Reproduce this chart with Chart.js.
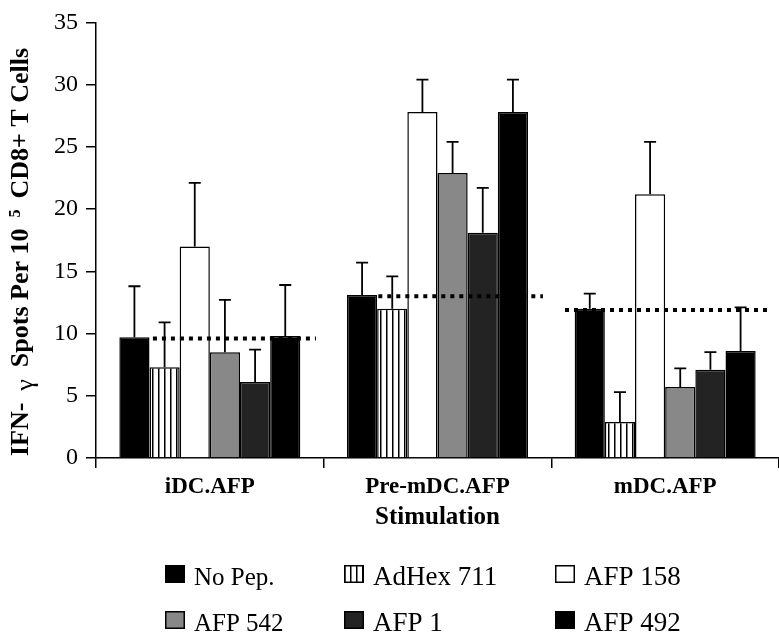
<!DOCTYPE html>
<html>
<head>
<meta charset="utf-8">
<script src="https://cdn.jsdelivr.net/npm/chart.js@4"></script>
<style>
  html, body { margin: 0; padding: 0; background: #ffffff; }
  #wrap { width: 779px; height: 639px; position: relative; }
</style>
</head>
<body>
<div id="wrap"><canvas id="c" width="779" height="639"></canvas></div>
<script>
// ---- data ----
const categories = ['iDC.AFP', 'Pre-mDC.AFP', 'mDC.AFP'];
const seriesNames = ['No Pep.', 'AdHex 711', 'AFP 158', 'AFP 542', 'AFP 1', 'AFP 492'];
const noPep    = [9.7, 13.1, 12.0];
const adHex711 = [7.3, 12.0, 2.9];
const afp158   = [17.0, 27.8, 21.2];
const afp542   = [8.5, 22.9, 5.7];
const afp1     = [6.1, 18.1, 7.1];
const afp492   = [9.8, 27.8, 8.6];
const noPepErr    = [4.1, 2.6, 1.2];
const adHex711Err = [3.6, 2.6, 2.4];
const afp158Err   = [5.1, 2.6, 4.2];
const afp542Err   = [4.2, 2.5, 1.5];
const afp1Err     = [2.6, 3.6, 1.4];
const afp492Err   = [4.1, 2.6, 3.5];
const backgroundLevel = [9.6, 13.0, 11.9];
const yTickValues = [0, 5, 10, 15, 20, 25, 30, 35];

// ---- styles ----
function makeStripePattern() {
  const c = document.createElement('canvas');
  c.width = 6; c.height = 6;
  const x = c.getContext('2d');
  x.fillStyle = '#ffffff';
  x.fillRect(0, 0, 6, 6);
  x.fillStyle = '#000000';
  x.fillRect(2, 0, 1.5, 6);
  return x.createPattern(c, 'repeat');
}
const stripes = makeStripePattern();
const fills = ['#000000', stripes, '#ffffff', '#888888', '#232323', '#000000'];
const values = [noPep, adHex711, afp158, afp542, afp1, afp492];
const errors = [noPepErr, adHex711Err, afp158Err, afp542Err, afp1Err, afp492Err];

const datasets = seriesNames.map((name, i) => ({
  label: name,
  data: values[i],
  errUp: errors[i],
  backgroundColor: fills[i],
  borderColor: '#000000',
  borderWidth: 1.5,
  categoryPercentage: 0.795,
  barPercentage: 1.0
}));

const FONT = "'Liberation Serif', 'Times New Roman', serif";

// error bars (upper only)
const errorBarPlugin = {
  id: 'errorBars',
  afterDatasetsDraw(chart) {
    const ctx = chart.ctx;
    const yScale = chart.scales.y;
    ctx.save();
    ctx.strokeStyle = '#000000';
    ctx.lineWidth = 1.8;
    chart.data.datasets.forEach((ds, di) => {
      const meta = chart.getDatasetMeta(di);
      meta.data.forEach((el, i) => {
        const top = yScale.getPixelForValue(ds.data[i] + ds.errUp[i]);
        ctx.beginPath();
        ctx.moveTo(el.x, el.y);
        ctx.lineTo(el.x, top);
        ctx.moveTo(el.x - 6, top);
        ctx.lineTo(el.x + 6, top);
        ctx.stroke();
      });
    });
    ctx.restore();
  }
};

// dotted background level line per group
const levelPlugin = {
  id: 'levelLines',
  afterDatasetsDraw(chart) {
    const ctx = chart.ctx;
    const xs = chart.scales.x, ys = chart.scales.y;
    const step = xs.width / categories.length;
    const starts = [-0.25, -0.26, -0.44];
    const ends = [0.466, 0.463, 0.469];
    ctx.save();
    ctx.strokeStyle = '#000000';
    ctx.lineWidth = 4;
    ctx.setLineDash([4, 5]);
    backgroundLevel.forEach((v, i) => {
      const cx = xs.getPixelForValue(i);
      const y = ys.getPixelForValue(v);
      ctx.beginPath();
      ctx.moveTo(cx + starts[i] * step, y);
      ctx.lineTo(cx + ends[i] * step, y);
      ctx.stroke();
    });
    ctx.restore();
  }
};

// y axis title with superscript
const yTitlePlugin = {
  id: 'yTitle',
  afterDraw(chart) {
    const ctx = chart.ctx;
    const parts = [
      { t: 'IFN-', f: 'bold 26px ' + FONT, dy: 0, gap: 12 },
      { t: '\u03B3', f: '26px ' + FONT, dy: 5, gap: 12 },
      { t: 'Spots Per 10', f: 'bold 26px ' + FONT, dy: 0, gap: 11 },
      { t: '5', f: 'bold 16px ' + FONT, dy: -8, gap: 11 },
      { t: 'CD8+ T Cells', f: 'bold 26px ' + FONT, dy: 0, gap: 0 }
    ];
    ctx.save();
    let total = 0;
    parts.forEach(p => { ctx.font = p.f; p.w = ctx.measureText(p.t).width; total += p.w + p.gap; });
    ctx.translate(28, 252);
    ctx.rotate(-Math.PI / 2);
    ctx.fillStyle = '#000000';
    ctx.textBaseline = 'alphabetic';
    ctx.textAlign = 'left';
    let x = -total / 2;
    parts.forEach(p => {
      ctx.font = p.f;
      ctx.fillText(p.t, x, p.dy);
      x += p.w + p.gap;
    });
    ctx.restore();
  }
};

// legend in a 3 x 2 grid
const legendPlugin = {
  id: 'gridLegend',
  afterDraw(chart) {
    const ctx = chart.ctx;
    const colX = [165, 344, 555];
    const rowBase = [585, 631];
    const colFont = [25, 27, 27];
    ctx.save();
    chart.data.datasets.forEach((ds, i) => {
      const col = i % 3, row = Math.floor(i / 3);
      const bx = colX[col], base = rowBase[row];
      ctx.fillStyle = ds.backgroundColor;
      ctx.fillRect(bx, base - 20, 20, 18);
      ctx.strokeStyle = '#000000';
      ctx.lineWidth = 1.5;
      ctx.strokeRect(bx + 0.75, base - 19.25, 18.5, 16.5);
      ctx.fillStyle = '#000000';
      ctx.font = colFont[col] + 'px ' + FONT;
      ctx.textBaseline = 'alphabetic';
      ctx.textAlign = 'left';
      ctx.fillText(ds.label, bx + 29, base);
    });
    ctx.restore();
  }
};

new Chart(document.getElementById('c'), {
  type: 'bar',
  data: { labels: categories, datasets: datasets },
  options: {
    responsive: false,
    animation: false,
    devicePixelRatio: 1,
    layout: { padding: { left: 0, right: 0, top: 13, bottom: 106 } },
    plugins: {
      legend: { display: false },
      tooltip: { enabled: false }
    },
    scales: {
      x: {
        grid: { display: true, drawOnChartArea: false, drawTicks: true, tickLength: 10, color: '#000000', lineWidth: 1.5, offset: true },
        border: { display: true, color: '#000000', width: 1.5 },
        ticks: { color: '#000000', font: { family: FONT, size: 23, weight: 'bold' }, padding: 5 },
        title: { display: true, text: 'Stimulation', color: '#000000', font: { family: FONT, size: 25, weight: 'bold' }, padding: 0 },
        afterFit(scale) { scale.height = 75; }
      },
      y: {
        min: 0, max: 35,
        afterBuildTicks(scale) { scale.ticks = yTickValues.map(v => ({ value: v })); },
        grid: { display: true, drawOnChartArea: false, drawTicks: true, tickLength: 10, color: '#000000', lineWidth: 1.5 },
        border: { display: true, color: '#000000', width: 1.5 },
        ticks: { color: '#000000', font: { family: FONT, size: 24 }, padding: 8 },
        afterFit(scale) { scale.width = 96; }
      }
    }
  },
  plugins: [errorBarPlugin, levelPlugin, yTitlePlugin, legendPlugin]
});
</script>
</body>
</html>
